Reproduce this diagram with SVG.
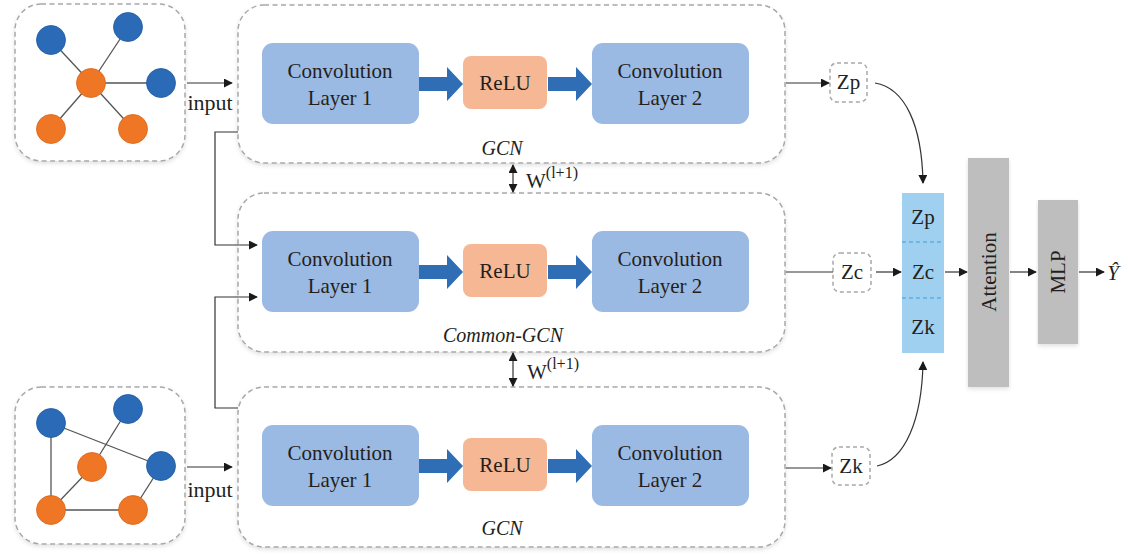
<svg xmlns="http://www.w3.org/2000/svg" width="1128" height="555" viewBox="0 0 1128 555">
  <defs>
    <marker id="arr" viewBox="0 0 10 10" refX="9" refY="5" markerWidth="9" markerHeight="9" markerUnits="userSpaceOnUse" orient="auto">
      <path d="M0,0 L10,5 L0,10 z" fill="#1a1a1a"/>
    </marker>
    <marker id="arrStart" viewBox="0 0 10 10" refX="1" refY="5" markerWidth="9" markerHeight="9" markerUnits="userSpaceOnUse" orient="auto">
      <path d="M10,0 L0,5 L10,10 z" fill="#1a1a1a"/>
    </marker>
    <filter id="soft" x="-5%" y="-5%" width="110%" height="115%">
      <feDropShadow dx="0" dy="2" stdDeviation="2" flood-color="#000" flood-opacity="0.12"/>
    </filter>
    <!-- blue block arrow between the layers -->
    <path id="blockArrow" d="M0,-7 L28,-7 L28,-17 L44,0 L28,17 L28,7 L0,7 z"/>
  </defs>
  <style>
    .panel { fill: #ffffff; stroke: #a8a8a8; stroke-width: 1.5; stroke-dasharray: 5 3.5; }
    .conv { fill: #9AB9E3; }
    .relu { fill: #F6B894; }
    .barrow { fill: #2F6DB5; }
    .txt { font-family: "Liberation Serif", "Times New Roman", serif; fill: #231f20; }
    .lbl { font-size: 21px; text-anchor: middle; }
    .it { font-style: italic; font-size: 20px; text-anchor: middle; }
    .edge { stroke: #555; stroke-width: 1.3; }
    .blue { fill: #2A6AB6; stroke: #1f5a9e; stroke-width: 0.8; }
    .orange { fill: #EE7624; stroke: #d9661a; stroke-width: 0.8; }
    .conn { fill: none; stroke: #333; stroke-width: 1.2; }
    .gray { fill: #BEBEBE; }
    .zbox { fill: #fff; stroke: #a8a8a8; stroke-width: 1.5; stroke-dasharray: 4 3; }
  </style>

  <!-- input graph 1 -->
  <g id="graph-top">
    <rect class="panel" x="15" y="4" width="170" height="157" rx="26" filter="url(#soft)"/>
    <line class="edge" x1="91" y1="83" x2="51" y2="40"/>
    <line class="edge" x1="91" y1="83" x2="128" y2="27"/>
    <line class="edge" x1="91" y1="83" x2="161" y2="83"/>
    <line class="edge" x1="91" y1="83" x2="51" y2="129"/>
    <line class="edge" x1="91" y1="83" x2="133" y2="129"/>
    <circle class="blue" cx="51" cy="40" r="14.5"/>
    <circle class="blue" cx="128" cy="27" r="14.5"/>
    <circle class="blue" cx="161" cy="83" r="14.5"/>
    <circle class="orange" cx="91" cy="83" r="14.5"/>
    <circle class="orange" cx="51" cy="129" r="14.5"/>
    <circle class="orange" cx="133" cy="129" r="14.5"/>
  </g>

  <!-- input graph 2 -->
  <g id="graph-bottom">
    <rect class="panel" x="15" y="387" width="170" height="157" rx="26" filter="url(#soft)"/>
    <line class="edge" x1="51" y1="423" x2="161" y2="466"/>
    <line class="edge" x1="51" y1="423" x2="51" y2="510"/>
    <line class="edge" x1="128" y1="409" x2="92" y2="467"/>
    <line class="edge" x1="92" y1="467" x2="51" y2="510"/>
    <line class="edge" x1="51" y1="510" x2="133" y2="510"/>
    <line class="edge" x1="133" y1="510" x2="161" y2="466"/>
    <circle class="blue" cx="51" cy="423" r="14.5"/>
    <circle class="blue" cx="128" cy="409" r="14.5"/>
    <circle class="blue" cx="161" cy="466" r="14.5"/>
    <circle class="orange" cx="92" cy="467" r="14.5"/>
    <circle class="orange" cx="51" cy="510" r="14.5"/>
    <circle class="orange" cx="133" cy="510" r="14.5"/>
  </g>

  <!-- GCN branch 1 -->
  <g id="gcn-top">
    <rect class="panel" x="238" y="5" width="547" height="158" rx="26" filter="url(#soft)"/>
    <rect class="conv" x="262" y="43" width="157" height="81" rx="11"/>
    <rect class="relu" x="463" y="56" width="84" height="53" rx="8"/>
    <rect class="conv" x="592" y="43" width="157" height="81" rx="11"/>
    <use href="#blockArrow" class="barrow" x="419" y="84"/>
    <use href="#blockArrow" class="barrow" x="548" y="84"/>
    <text class="txt lbl" x="340" y="78">Convolution</text>
    <text class="txt lbl" x="340" y="105">Layer 1</text>
    <text class="txt lbl" x="505" y="90">ReLU</text>
    <text class="txt lbl" x="670" y="78">Convolution</text>
    <text class="txt lbl" x="670" y="105">Layer 2</text>
    <text class="txt it" x="502" y="155">GCN</text>
  </g>

  <!-- shared Common-GCN branch -->
  <g id="gcn-common">
    <rect class="panel" x="238" y="193" width="547" height="159" rx="26" filter="url(#soft)"/>
    <rect class="conv" x="262" y="231" width="157" height="81" rx="11"/>
    <rect class="relu" x="463" y="244" width="84" height="53" rx="8"/>
    <rect class="conv" x="592" y="231" width="157" height="81" rx="11"/>
    <use href="#blockArrow" class="barrow" x="419" y="272"/>
    <use href="#blockArrow" class="barrow" x="548" y="272"/>
    <text class="txt lbl" x="340" y="266">Convolution</text>
    <text class="txt lbl" x="340" y="293">Layer 1</text>
    <text class="txt lbl" x="505" y="278">ReLU</text>
    <text class="txt lbl" x="670" y="266">Convolution</text>
    <text class="txt lbl" x="670" y="293">Layer 2</text>
    <text class="txt it" x="503" y="342">Common-GCN</text>
  </g>

  <!-- GCN branch 2 -->
  <g id="gcn-bottom">
    <rect class="panel" x="238" y="387" width="547" height="160" rx="26" filter="url(#soft)"/>
    <rect class="conv" x="262" y="425" width="157" height="81" rx="11"/>
    <rect class="relu" x="463" y="438" width="84" height="53" rx="8"/>
    <rect class="conv" x="592" y="425" width="157" height="81" rx="11"/>
    <use href="#blockArrow" class="barrow" x="419" y="466"/>
    <use href="#blockArrow" class="barrow" x="548" y="466"/>
    <text class="txt lbl" x="340" y="460">Convolution</text>
    <text class="txt lbl" x="340" y="487">Layer 1</text>
    <text class="txt lbl" x="505" y="472">ReLU</text>
    <text class="txt lbl" x="670" y="460">Convolution</text>
    <text class="txt lbl" x="670" y="487">Layer 2</text>
    <text class="txt it" x="502" y="535">GCN</text>
  </g>

  <!-- branch outputs -->
  <g id="zp">
    <rect class="zbox" x="830" y="63" width="37" height="39" rx="7"/>
    <text class="txt lbl" x="848.5" y="89">Zp</text>
  </g>
  <g id="zc">
    <rect class="zbox" x="833" y="253" width="38" height="39" rx="7"/>
    <text class="txt lbl" x="852" y="279">Zc</text>
  </g>
  <g id="zk">
    <rect class="zbox" x="832" y="447" width="38" height="38" rx="7"/>
    <text class="txt lbl" x="851" y="473">Zk</text>
  </g>

  <!-- concatenated embedding -->
  <g id="concat">
    <rect x="902" y="193" width="42" height="160" fill="#9FD0F0"/>
    <line x1="902" y1="242" x2="944" y2="242" stroke="#3D9BDA" stroke-width="1.2" stroke-dasharray="4 3"/>
    <line x1="902" y1="298" x2="944" y2="298" stroke="#3D9BDA" stroke-width="1.2" stroke-dasharray="4 3"/>
    <text class="txt lbl" x="923" y="224">Zp</text>
    <text class="txt lbl" x="923" y="279">Zc</text>
    <text class="txt lbl" x="923" y="334">Zk</text>
  </g>

  <g id="attention">
    <rect class="gray" x="968" y="158" width="41" height="229" filter="url(#soft)"/>
    <text class="txt lbl" transform="translate(996 272) rotate(-90)" x="0" y="0">Attention</text>
  </g>

  <g id="mlp">
    <rect class="gray" x="1038" y="200" width="40" height="144" filter="url(#soft)"/>
    <text class="txt lbl" transform="translate(1065 272) rotate(-90)" x="0" y="0">MLP</text>
  </g>

  <!-- predicted label Y-hat -->
  <g id="output">
    <text class="txt" x="1113" y="280" font-size="21" font-style="italic" text-anchor="middle">Y&#x302;</text>
  </g>

  <!-- connectors -->
  <g id="connectors">
    <line class="conn" x1="187" y1="83" x2="232" y2="83" marker-end="url(#arr)"/>
    <line class="conn" x1="187" y1="467" x2="232" y2="467" marker-end="url(#arr)"/>
    <text class="txt" x="210" y="110" font-size="22" text-anchor="middle">input</text>
    <text class="txt" x="210" y="497" font-size="22" text-anchor="middle">input</text>

    <polyline class="conn" points="238,132 215,132 215,245 257,245" marker-end="url(#arr)"/>
    <polyline class="conn" points="238,408 215,408 215,297 257,297" marker-end="url(#arr)"/>

    <line class="conn" x1="513" y1="165" x2="513" y2="192" marker-start="url(#arrStart)" marker-end="url(#arr)"/>
    <line class="conn" x1="513" y1="353" x2="513" y2="386" marker-start="url(#arrStart)" marker-end="url(#arr)"/>
    <text class="txt" x="526" y="188" font-size="21">W<tspan font-size="16" dy="-10">(l+1)</tspan></text>
    <text class="txt" x="527" y="379" font-size="21">W<tspan font-size="16" dy="-10">(l+1)</tspan></text>

    <line class="conn" x1="786" y1="83" x2="829" y2="83" marker-end="url(#arr)"/>
    <line class="conn" x1="786" y1="272" x2="833" y2="272"/>
    <line class="conn" x1="786" y1="468" x2="831" y2="468" marker-end="url(#arr)"/>

    <path class="conn" d="M875,83 C905,88 922,125 923,183" marker-end="url(#arr)"/>
    <path class="conn" d="M877,466 C905,460 922,420 923,362" marker-end="url(#arr)"/>

    <line class="conn" x1="876" y1="272" x2="901" y2="272" marker-end="url(#arr)"/>
    <line class="conn" x1="945" y1="272" x2="967" y2="272" marker-end="url(#arr)"/>
    <line class="conn" x1="1010" y1="272" x2="1036" y2="272" marker-end="url(#arr)"/>
    <line class="conn" x1="1079" y1="272" x2="1104" y2="272" marker-end="url(#arr)"/>
  </g>
</svg>
